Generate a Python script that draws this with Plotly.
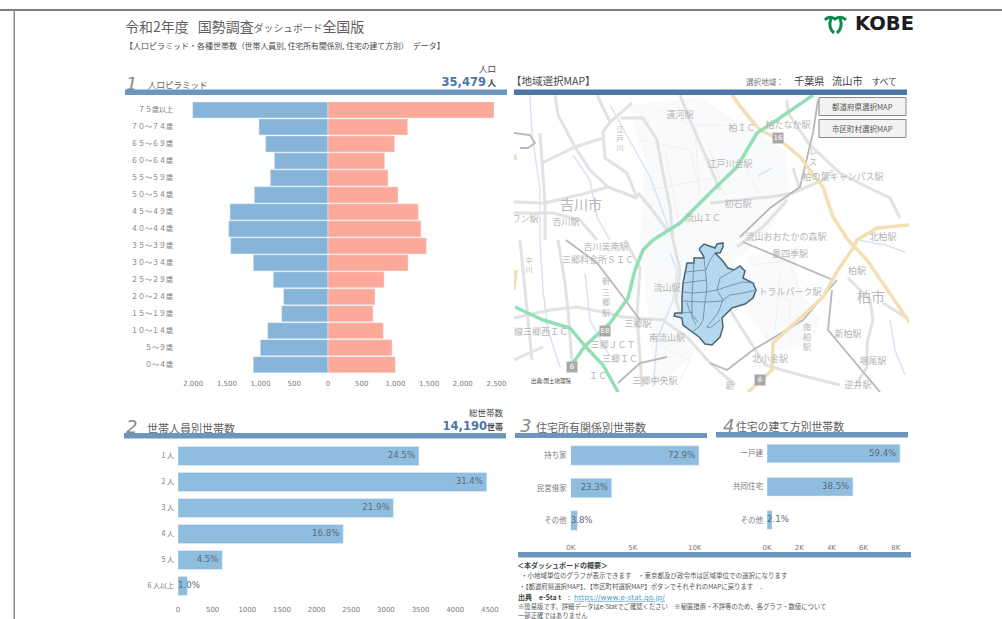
import plotly.graph_objects as go

W, H = 1002, 619
JP = "DejaVu Sans, Noto Sans CJK JP, sans-serif"
CJK = "Noto Sans CJK JP, sans-serif"

# ---------- data ----------
age_labels = ["７５歳以上", "７０～７４歳", "６５～６９歳", "６０～６４歳", "５５～５９歳", "５０～５４歳",
              "４５～４９歳", "４０～４４歳", "３５～３９歳", "３０～３４歳", "２５～２９歳", "２０～２４歳",
              "１５～１９歳", "１０～１４歳", "５～９歳", "０～４歳"]
male_pop = [2008, 1024, 925, 796, 856, 1093, 1454, 1474, 1444, 1108, 811, 658, 687, 895, 1004, 1108]
female_pop = [2463, 1182, 989, 841, 890, 1039, 1340, 1380, 1459, 1187, 831, 697, 668, 821, 950, 999]
pop_ticks = [-2000, -1500, -1000, -500, 0, 500, 1000, 1500, 2000, 2500]
pop_ticktext = ["2,000", "1,500", "1,000", "500", "0", "500", "1,000", "1,500", "2,000", "2,500"]

hh_labels = ["1 人", "2 人", "3 人", "4 人", "5 人", "6 人以上"]
hh_values = [3477, 4456, 3108, 2384, 639, 135]
hh_pct = ["24.5%", "31.4%", "21.9%", "16.8%", "4.5%", "1.0%"]
hh_ticks = [0, 500, 1000, 1500, 2000, 2500, 3000, 3500, 4000, 4500]

own_labels = ["持ち家", "民営借家", "その他"]
own_values = [10345, 3306, 539]
own_pct = ["72.9%", "23.3%", "3.8%"]

bld_labels = ["一戸建", "共同住宅", "その他"]
bld_values = [8261, 5342, 311]
bld_pct = ["59.4%", "38.5%", "2.1%"]

# map geography (page pixel coordinates)
city_outline = [(699, 249), (704, 244), (715, 248), (717, 244), (723, 243), (723, 247), (720, 253), (715, 253),
                (722, 260), (728, 268), (734, 270), (740, 266), (745, 271), (743, 278), (753, 283), (756, 290),
                (753, 298), (745, 304), (732, 308), (722, 318), (723, 327), (720, 337), (712, 345), (705, 344),
                (699, 337), (692, 332), (683, 325), (682, 318), (674, 316), (675, 313), (682, 313), (682, 297),
                (683, 283), (687, 263), (694, 263), (694, 258), (704, 258), (703, 255), (699, 249)]
city_wards = [
    [(704, 258), (705, 270), (707, 287), (705, 302), (703, 320), (699, 327)],
    [(715, 253), (710, 260), (706, 270)],
    [(694, 258), (693, 280), (692, 300), (692, 317), (696, 325)],
    [(686, 272), (705, 270)],
    [(683, 283), (693, 282), (707, 280)],
    [(720, 278), (728, 273), (734, 270)],
    [(720, 278), (717, 290), (723, 300), (718, 313), (707, 327)],
    [(682, 292), (693, 293), (706, 292), (717, 290), (732, 285), (743, 282), (753, 283)],
    [(723, 300), (730, 295), (743, 293), (756, 290)],
    [(682, 301), (705, 302), (723, 301)],
    [(687, 303), (690, 312), (698, 322)],
    [(682, 313), (693, 312)],
    [(707, 327), (710, 328), (720, 320)],
    [(699, 327), (692, 332)],
]
thin_streets = [
    [(640, 140), (690, 150), (700, 190)], [(660, 110), (690, 125), (725, 125)], [(695, 130), (700, 200)],
    [(650, 190), (730, 175)], [(745, 165), (760, 195)], [(755, 265), (790, 260), (800, 295)],
    [(750, 290), (790, 300), (790, 340)], [(780, 275), (775, 330)], [(665, 150), (680, 230)],
    [(710, 150), (725, 195)], [(660, 345), (690, 360), (680, 380)],
]
gray_roads = [
    [(555, 95), (558, 115), (575, 147), (590, 170), (608, 187), (587, 193), (545, 203), (514, 202)],
    [(542, 163), (575, 147), (603, 138)],
    [(597, 95), (610, 122), (603, 132), (605, 158), (627, 173), (637, 198), (608, 187)],
    [(610, 122), (632, 103)],
    [(620, 118), (643, 118), (657, 140), (663, 173), (670, 207), (673, 240), (680, 270), (676, 300), (682, 320)],
    [(638, 193), (650, 207), (667, 230)],
    [(540, 133), (543, 170), (545, 203), (545, 240)],
    [(514, 213), (553, 213), (580, 220), (597, 240)],
    [(514, 318), (550, 310), (577, 307), (607, 313), (623, 317), (663, 320), (687, 337), (710, 363), (735, 385)],
    [(558, 240), (565, 283), (568, 310), (572, 363)],
    [(520, 240), (527, 307), (532, 360)],
    [(514, 360), (543, 347)],
    [(637, 317), (642, 387)],
    [(625, 240), (640, 268), (637, 317)],
    [(710, 203), (770, 197), (793, 193), (823, 180), (833, 170)],
    [(787, 100), (788, 113), (810, 145), (823, 157), (840, 173), (867, 187), (890, 198), (900, 218)],
    [(793, 168), (798, 183), (800, 190)],
    [(848, 278), (870, 300), (873, 320), (867, 343), (867, 367), (857, 383)],
    [(883, 303), (910, 320)],
    [(730, 310), (765, 365), (800, 375), (840, 385)],
    [(755, 125), (735, 100)],
    [(737, 247), (765, 225), (787, 200)],
    [(680, 95), (690, 120), (720, 190)],
]
dark_roads = [
    [(818, 100), (813, 133), (800, 187), (770, 208), (740, 237)],
    [(743, 242), (793, 263), (833, 280)],
    [(837, 280), (803, 320), (753, 350), (727, 370), (710, 363)],
    [(832, 290), (828, 330), (880, 392)],
    [(566, 240), (597, 263), (620, 293), (640, 320)],
    [(618, 383), (640, 363), (667, 357)],
    [(514, 133), (530, 135), (535, 143), (528, 148), (520, 148)],
]
rivers = [
    [(530, 95), (532, 133), (540, 190), (540, 240), (543, 290), (548, 330), (560, 367)],
    [(610, 105), (633, 147), (650, 177), (667, 223), (673, 240)],
    [(573, 155), (590, 180), (597, 217), (610, 240)],
    [(653, 387), (657, 340), (673, 300), (677, 270), (670, 253)],
    [(585, 273), (590, 320), (610, 357)],
    [(890, 320), (895, 350), (905, 375)],
    [(858, 240), (885, 245), (905, 252)],
    [(758, 176), (772, 168)],
]
green_roads = [
    [(653, 240), (680, 223), (710, 193), (737, 167), (757, 133), (777, 120), (813, 95)],
    [(653, 240), (643, 250), (635, 270), (628, 298), (610, 323), (585, 346), (573, 363)],
    [(515, 307), (543, 320), (570, 328), (585, 346), (603, 365), (618, 392)],
]
orange_roads = [
    [(732, 95), (747, 115), (760, 130), (780, 140), (800, 157), (823, 187), (833, 217), (848, 240),
     (867, 260), (910, 323)],
    [(748, 392), (772, 370), (773, 343), (803, 315), (823, 297), (838, 270), (855, 245), (857, 240),
     (877, 228), (910, 225)],
    [(514, 155), (516, 160)],
    [(514, 290), (516, 270)],
]
residential_x = [628, 700, 735, 785, 790, 760, 735, 690, 655, 650, 640, 645]
residential_y = [105, 98, 120, 150, 200, 240, 260, 360, 385, 330, 240, 160]
residential2_x = [750, 795, 800, 820, 810, 775, 755, 735]
residential2_y = [255, 255, 290, 320, 345, 350, 325, 290]
map_labels = [
    ("吉川市", 581, 206, 14), ("吉川駅", 566, 223, 9), ("ワン駅", 525, 220, 9), ("江<br>戸<br>川", 620, 139, 7),
    ("吉川美南駅", 606, 248, 9), ("三郷料金所ＳＩＣ", 598, 261, 9), ("新<br>三<br>郷<br>駅", 606, 298, 8),
    ("流山駅", 667, 289, 9), ("三郷駅", 638, 325, 9),
    ("南流山駅", 667, 339, 9), ("線三郷西ＩＣ", 541, 333, 9), ("三郷ＪＣＴ", 613, 346, 9), ("三郷ＩＣ", 620, 360, 9),
    ("ＩＣ", 598, 377, 9), ("三郷中央駅", 655, 382, 9), ("流山ＩＣ", 703, 219, 9), ("流山おおたかの森駅", 786, 238, 9),
    ("豊四季駅", 790, 255, 9), ("トラルパーク駅", 790, 293, 9), ("柏市", 871, 298, 14), ("柏駅", 857, 272, 9),
    ("北柏駅", 883, 238, 9), ("新柏駅", 848, 335, 9), ("増尾駅", 873, 362, 9), ("逆井駅", 858, 386, 9),
    ("北小金駅", 770, 360, 9), ("南<br>柏<br>駅", 807, 338, 8), ("新", 730, 387, 9),
    ("初石駅", 738, 205, 9), ("運河駅", 680, 116, 9), ("柏ＩＣ", 742, 129, 9), ("柏たなか駅", 788, 126, 9),
    ("江戸川台駅", 730, 165, 9), ("柏の葉キャンパス駅", 843, 178, 9), ("レ<br>ス", 813, 158, 8),
    ("中<br>川", 529, 266, 7),
]
map_shields = [("16", 778, 138), ("E8", 605, 331), ("6", 572, 367), ("6", 760, 380)]


def dom_x(a, b):
    return [a / W, b / W]


def dom_y(top, bot):
    return [1 - bot / H, 1 - top / H]


def polyline(points, color, width, axes):
    return go.Scatter(x=[p[0] for p in points], y=[p[1] for p in points], mode="lines", xaxis=axes[0], yaxis=axes[1],
                      hoverinfo="skip", line=dict(color=color, width=width), showlegend=False)


fig = go.Figure()
MAP = ("x2", "y2")

# ---------- map panel ----------
for xs, ys in [(residential_x, residential_y), (residential2_x, residential2_y)]:
    fig.add_trace(go.Scatter(x=xs + xs[:1], y=ys + ys[:1], mode="lines", fill="toself", fillcolor="#f9fafb",
                             line=dict(width=0), xaxis="x2", yaxis="y2", hoverinfo="skip", showlegend=False))
for r in thin_streets:
    fig.add_trace(polyline(r, "#ececec", 0.8, MAP))
for r in rivers:
    fig.add_trace(polyline(r, "#d6e4f7", 1.5, MAP))
for r in gray_roads:
    fig.add_trace(polyline(r, "#e2e2e2", 3, MAP))
for r in dark_roads:
    fig.add_trace(polyline(r, "#b8b8b8", 1.8, MAP))
for r in orange_roads:
    fig.add_trace(polyline(r, "#f4dfb4", 3.5, MAP))
for r in green_roads:
    fig.add_trace(polyline(r, "#93dfb6", 3.5, MAP))
fig.add_trace(go.Scatter(x=[m[1] for m in map_labels], y=[m[2] for m in map_labels],
                         text=[m[0] for m in map_labels], mode="text", xaxis="x2", yaxis="y2",
                         textfont=dict(family=CJK, color="#b6b6b6", size=[m[3] for m in map_labels]),
                         hoverinfo="skip", showlegend=False))
fig.add_trace(go.Scatter(x=[s[1] for s in map_shields], y=[s[2] for s in map_shields],
                         text=[s[0] for s in map_shields], mode="markers+text", textposition="middle center",
                         marker=dict(symbol="square", size=11, color="#a9a9a9"),
                         textfont=dict(family=JP, size=7, color="white"), xaxis="x2", yaxis="y2",
                         hoverinfo="skip", showlegend=False))
fig.add_trace(go.Scatter(x=[p[0] for p in city_outline], y=[p[1] for p in city_outline], mode="lines",
                         fill="toself", fillcolor="#b3d8f0", line=dict(color="#4f6270", width=1.5),
                         xaxis="x2", yaxis="y2", hoverinfo="skip", showlegend=False))
for w in city_wards:
    fig.add_trace(polyline(w, "#6c8498", 0.8, MAP))

# ---------- pyramid ----------
fig.add_trace(go.Bar(y=age_labels, x=[-v for v in male_pop], orientation="h", marker_color="#87b5d9", width=0.95,
                     xaxis="x3", yaxis="y3", hoverinfo="skip", showlegend=False))
fig.add_trace(go.Bar(y=age_labels, x=female_pop, orientation="h", marker_color="#fda99a", width=0.95,
                     xaxis="x3", yaxis="y3", hoverinfo="skip", showlegend=False))


# ---------- horizontal bars with inside labels ----------
def hbar(labels, values, pct, xa, ya, width, pad):
    fig.add_trace(go.Bar(y=labels, x=values, orientation="h", marker_color="#8fbde0", width=width,
                         xaxis=xa, yaxis=ya, hoverinfo="skip", showlegend=False))
    small = [v < 0.06 * max(values) for v in values]
    fig.add_trace(go.Scatter(y=labels, x=[0 if s else v - pad for v, s in zip(values, small)], text=pct, mode="text",
                             textposition=["middle right" if s else "middle left" for s in small],
                             textfont=dict(family=JP, size=8.6, color="#5b6b7b"), cliponaxis=False,
                             xaxis=xa, yaxis=ya, hoverinfo="skip", showlegend=False))


hbar(hh_labels, hh_values, hh_pct, "x4", "y4", 0.73, 55)
hbar(own_labels, own_values, own_pct, "x5", "y5", 0.6, 300)
hbar(bld_labels, bld_values, bld_pct, "x6", "y6", 0.56, 230)


# ---------- page text ----------
def page_text(items):
    for txt, x, y, size, color, pos, fam in items:
        fig.add_trace(go.Scatter(x=[x], y=[y], text=[txt], mode="text", textposition=pos,
                                 textfont=dict(family=fam, size=size, color=color), xaxis="x", yaxis="y",
                                 hoverinfo="skip", showlegend=False))


def span(txt, px):
    return f'<span style="font-size:{px}px">{txt}</span>'


L, R = "middle right", "middle left"
GR = "#5f5f5f"
page_text([
    ("令和2年度" + span("　", 9) + "国勢調査" + span("ダッシュボード", 9.8) + "全国版", 125, 28, 14, GR, L, CJK),
    ("【人口ピラミッド・各種世帯数" + span("（世帯人員別, 住宅所有関係別, 住宅の建て方別）", 7.8)
     + span("　", 8) + "データ】", 125, 47, 8, "#4a4a4a", L, CJK),
    ("<i>1</i>", 126, 85, 18, "#8a8a8a", L, JP),
    ("人口ピラミッド", 148, 86, 8.5, GR, L, CJK),
    ("人口", 496, 70, 8.5, "#444444", R, CJK),
    ("<b>35,479</b>", 486, 83, 11.5, "#4a76a8", R, JP),
    ("<b>人</b>", 496, 84, 8.5, "#444444", R, CJK),
    ("【地域選択MAP】", 511, 82, 10.5, "#4a4a4a", L, CJK),
    ("選択地域：", 746, 83, 7.6, "#777777", L, CJK),
    (span("千葉県", 10.2) + span("　", 7.5) + span("流山市", 10.2) + span("　", 9) + span("すべて", 8.6),
     794, 82, 10.2, "#3c3c3c", L, CJK),
    ("<i>2</i>", 126, 428, 18, "#8a8a8a", L, JP),
    ("世帯人員別世帯数", 147, 430, 11, GR, L, CJK),
    ("総世帯数", 503, 414, 8.5, "#444444", R, CJK),
    ("<b>14,190</b>", 487, 427, 11.5, "#4a76a8", R, JP),
    ("<b>世帯</b>", 503, 428, 8, "#444444", R, CJK),
    ("<i>3</i>", 520, 427, 18, "#8a8a8a", L, JP),
    ("住宅所有関係別世帯数", 536, 429, 11, GR, L, CJK),
    ("<i>4</i>", 723, 427, 18, "#8a8a8a", L, JP),
    ("住宅の建て方別世帯数", 736, 428, 10.8, GR, L, CJK),
    ("<b>＜本ダッシュボードの概要＞</b>", 517, 566, 7, "#444444", L, CJK),
    ("・小地域単位のグラフが表示できます　・東京都及び政令市は区域単位での選択になります", 521, 576, 6.5, "#555555", L, CJK),
    ("・【都道府県選択MAP】、【市区町村選択MAP】ボタンでそれぞれのMAPに戻ります　..", 519, 587, 6.4, "#555555", L, CJK),
    ("<b>出典　e-Sta t</b>", 518, 598, 7, "#444444", L, CJK),
    (":", 568, 598, 7, "#444444", L, CJK),
    ("<u>https://www.e-stat.go.jp/</u>", 574, 598, 7.4, "#4ca3c9", L, JP),
    ("※簡易版です。詳細データはe-Statでご確認ください　※秘匿措置・不詳等のため、各グラフ・数値について", 518, 607, 6.35, "#555555", L, CJK),
    ("一部正確ではありません", 518, 616, 6.35, "#555555", L, CJK),
    ("<b>KOBE</b>", 855, 25, 19.5, "#1c1c1c", L, "DejaVu Sans"),
])

# ---------- shapes ----------
HDR = "#6b97bf"
HDR2 = "#4b76a6"


def rect(x0, y0, x1, y1, color, line=None, lw=0):
    return dict(type="rect", xref="paper", yref="paper", x0=x0 / W, x1=x1 / W, y0=1 - y0 / H, y1=1 - y1 / H,
                fillcolor=color, line=dict(color=line, width=lw) if line else dict(width=0), layer="above")


def path(d, color, width):
    return dict(type="path", xref="x", yref="y", path=d, line=dict(color=color, width=width),
                fillcolor="rgba(0,0,0,0)", layer="above")


GREEN = "#0e8a4c"
shapes = [
    rect(0, 9, W, 11, "#7d7d7d"),
    rect(13.5, 9, 15, H, "#8a8a8a"),
    rect(125, 89.5, 507, 95, HDR),
    rect(514, 89.5, 907, 95, HDR2),
    rect(124, 433, 506, 438.5, HDR),
    rect(515, 433, 707, 438, HDR),
    rect(716, 432, 908, 437.5, HDR),
    rect(518, 552, 911, 557.5, HDR),
    rect(514, 375, 580, 392, "white"),
    rect(819, 97.5, 906, 115.5, "#f2f2f2", "#8a8a8a", 1),
    rect(819, 119.5, 906, 137.5, "#f2f2f2", "#8a8a8a", 1),
    path("M825,20 Q829,15 835,19 Q841,15 846,20", GREEN, 3),
    path("M831,18 C829,24 829,29 834,33", GREEN, 3),
    path("M840,18 C842,24 842,29 837,33", GREEN, 3),
]

annotations = [
    dict(text="都道府県選択MAP", x=862.5, y=106.5, xref="x", yref="y", showarrow=False,
         font=dict(family=CJK, size=7.5, color="#555555")),
    dict(text="市区町村選択MAP", x=862.5, y=128.5, xref="x", yref="y", showarrow=False,
         font=dict(family=CJK, size=7.5, color="#555555")),
    dict(text="出典:国土地理院", x=551.5, y=380.5, xref="x", yref="y", showarrow=False,
         font=dict(family=CJK, size=5.5, color="#444444")),
]

# ---------- axes ----------
TICK = dict(family=JP, size=7, color="#7a7a7a")
hidden = dict(visible=False, fixedrange=True)


def val_axis(domain, rng, ticks, text=None):
    return dict(domain=domain, range=rng, showgrid=False, zeroline=False, showline=False, ticks="",
                tickfont=TICK, fixedrange=True, side="bottom", ticklabelstandoff=5,
                tickmode="array", tickvals=ticks, ticktext=text if text else [str(t) for t in ticks])


def cat_axis(domain, labels, size, anchor):
    return dict(domain=domain, type="category", categoryorder="array", categoryarray=labels,
                range=[len(labels) - 0.5, -0.5], showgrid=False, zeroline=False, showline=False,
                ticks="", tickfont=dict(family=CJK, size=size, color="#7a7a7a"), fixedrange=True, anchor=anchor,
                ticklabelstandoff=3)


pyr_scale = 0.0674
pyr_left, pyr_right, pyr_zero = 177, 505, 328
hh_scale, hh_zero, hh_right = 0.0693, 178, 503
own_scale, own_zero, own_right = 0.0124, 570.7, 705
bld_scale, bld_zero, bld_right = 0.0161, 767, 905

fig.update_layout(
    width=W, height=H, margin=dict(l=0, r=0, t=0, b=0, pad=0), autosize=False,
    paper_bgcolor="white", plot_bgcolor="rgba(0,0,0,0)", barmode="overlay", showlegend=False,
    font=dict(family=JP), shapes=shapes, annotations=annotations,
    xaxis=dict(domain=[0, 1], range=[0, W], **hidden),
    yaxis=dict(domain=[0, 1], range=[H, 0], **hidden),
    xaxis2=dict(domain=dom_x(514, 909), range=[514, 909], anchor="y2", **hidden),
    yaxis2=dict(domain=dom_y(95, 392), range=[392, 95], anchor="x2", **hidden),
    xaxis3=dict(val_axis(dom_x(pyr_left, pyr_right),
                         [(pyr_left - pyr_zero) / pyr_scale, (pyr_right - pyr_zero) / pyr_scale],
                         pop_ticks, pop_ticktext), anchor="y3"),
    yaxis3=cat_axis(dom_y(101.5, 373.2), age_labels, 7, "x3"),
    xaxis4=dict(val_axis(dom_x(hh_zero, hh_right), [0, (hh_right - hh_zero) / hh_scale], hh_ticks), anchor="y4"),
    yaxis4=cat_axis(dom_y(443, 599), hh_labels, 7, "x4"),
    xaxis5=dict(val_axis(dom_x(own_zero, own_right), [0, (own_right - own_zero) / own_scale],
                         [0, 5000, 10000], ["0K", "5K", "10K"]), anchor="y5"),
    yaxis5=cat_axis(dom_y(439.25, 536.75), own_labels, 7.5, "x5"),
    xaxis6=dict(val_axis(dom_x(bld_zero, bld_right), [0, (bld_right - bld_zero) / bld_scale],
                         [0, 2000, 4000, 6000, 8000], ["0K", "2K", "4K", "6K", "8K"]), anchor="y6"),
    yaxis6=cat_axis(dom_y(436.9, 536.6), bld_labels, 7.5, "x6"),
)
fig.update_xaxes(automargin=False)
fig.update_yaxes(automargin=False)

fig.write_html("out.html", post_script="document.body.style.margin='0';", config={"displayModeBar": False})
